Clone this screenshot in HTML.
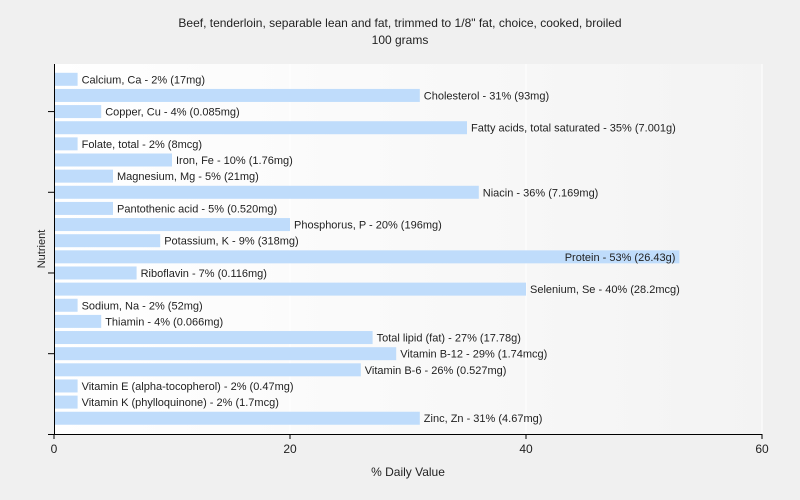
<!DOCTYPE html>
<html><head><meta charset="utf-8"><style>
body{margin:0;background:#f0f0f0;font-family:"Liberation Sans",sans-serif;}
svg{display:block}
</style></head><body>
<svg id="c" width="800" height="500">
<defs><linearGradient id="g" x1="0" x2="1" y1="0" y2="0"><stop offset="0" stop-color="#ffffff"/><stop offset="1" stop-color="#f3f3f3"/></linearGradient></defs>
<rect x="54" y="64" width="708" height="370" fill="url(#g)"/>
<text x="400" y="27" text-anchor="middle" font-size="12" fill="#222">Beef, tenderloin, separable lean and fat, trimmed to 1/8" fat, choice, cooked, broiled</text>
<text x="400" y="44" text-anchor="middle" font-size="12" fill="#222">100 grams</text>
<text x="408" y="476" text-anchor="middle" font-size="12" fill="#222">% Daily Value</text>
<text transform="translate(45,249) rotate(-90)" text-anchor="middle" font-size="11" fill="#222">Nutrient</text>
<g id="grid"></g><g id="bars"></g><g id="axes"></g>
</svg>
<script>
const categories=["Calcium, Ca","Cholesterol","Copper, Cu","Fatty acids, total saturated","Folate, total","Iron, Fe","Magnesium, Mg","Niacin","Pantothenic acid","Phosphorus, P","Potassium, K","Protein","Riboflavin","Selenium, Se","Sodium, Na","Thiamin","Total lipid (fat)","Vitamin B-12","Vitamin B-6","Vitamin E (alpha-tocopherol)","Vitamin K (phylloquinone)","Zinc, Zn"];
const values=[2,31,4,35,2,10,5,36,5,20,9,53,7,40,2,4,27,29,26,2,2,31];
const amounts=["17mg","93mg","0.085mg","7.001g","8mcg","1.76mg","21mg","7.169mg","0.520mg","196mg","318mg","26.43g","0.116mg","28.2mcg","52mg","0.066mg","17.78g","1.74mcg","0.527mg","0.47mg","1.7mcg","4.67mg"];
const xTicks=[0,20,40,60];
const NS="http://www.w3.org/2000/svg";
const x=v=>54+v*708/60;
const y=i=>79.3+i*16.14;
function mk(t,a,p){const e=document.createElementNS(NS,t);for(const k in a)e.setAttribute(k,a[k]);p.appendChild(e);return e;}
const grid=document.getElementById('grid'),bars=document.getElementById('bars'),axes=document.getElementById('axes');
xTicks.forEach(t=>{if(t>0){const l=mk('line',{x1:x(t),x2:x(t),y1:64,y2:434,stroke:'#ffffff','stroke-width':1},grid);

}
const tk=mk('line',{x1:x(t),x2:x(t),y1:434,y2:439,stroke:'#000'},axes);


const tx=mk('text',{x:x(t),y:453,'text-anchor':'middle','font-size':12,fill:'#222'},axes);tx.textContent=t;

});
categories.forEach((c,i)=>{const r=mk('rect',{x:x(0),y:y(i)-6.5,width:x(values[i])-x(0),height:13,fill:'#bfdcfb'},bars);


const t=mk('text',{x:x(values[i])+4,y:y(i)+4,'font-size':11,fill:'#222'},bars);t.textContent=c+' - '+values[i]+'% ('+amounts[i]+')';
if(x(values[i])+4+t.getComputedTextLength()>762){t.setAttribute('x',x(values[i])-4);t.setAttribute('text-anchor','end');}


if(i%5===2){const k=mk('line',{x1:48,x2:54,y1:y(i),y2:y(i),stroke:'#000'},axes);

}});
const ya=mk('line',{x1:54.5,x2:54.5,y1:64,y2:434,stroke:'#000'},axes);


const xa=mk('line',{x1:48,x2:762,y1:434.5,y2:434.5,stroke:'#000'},axes);


</script>
</body></html>
